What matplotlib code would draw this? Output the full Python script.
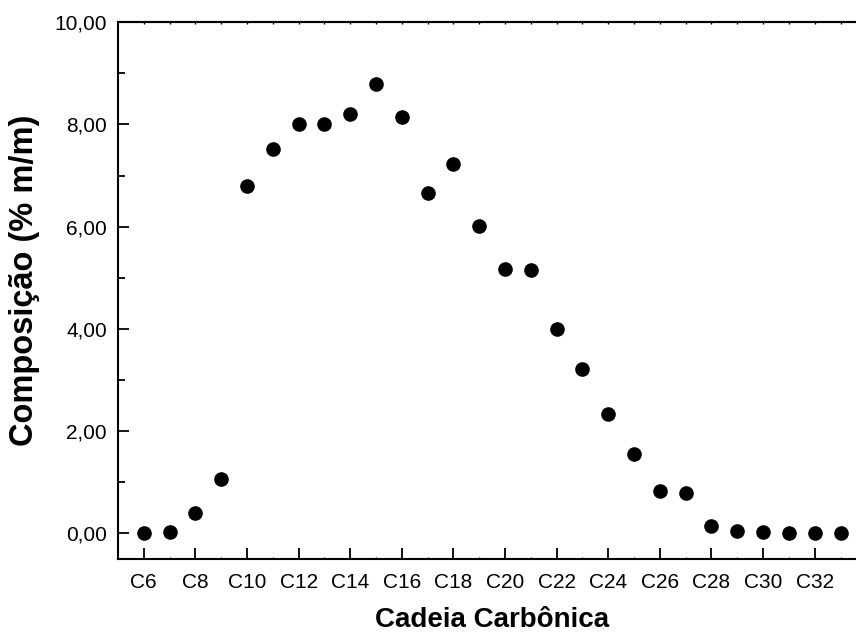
import matplotlib
matplotlib.use("Agg")
import matplotlib.pyplot as plt
from matplotlib.ticker import FixedLocator, FuncFormatter

plt.rcParams['font.family'] = ['Liberation Sans', 'DejaVu Sans']

# Numero de carbonos da cadeia e composicao (% m/m)
carbonos = list(range(6, 34))
composicao = [0.00, 0.02, 0.39, 1.06, 6.80, 7.52, 8.00, 8.00, 8.21, 8.79,
              8.14, 6.65, 7.22, 6.01, 5.17, 5.15, 4.00, 3.21, 2.33, 1.55,
              0.83, 0.79, 0.14, 0.05, 0.03, 0.00, 0.00, 0.00]

rotulos_x = ['C%d' % c for c in range(6, 34, 2)]

fig = plt.figure(figsize=(8.56, 6.34), dpi=100)
ax = fig.add_axes([118 / 856, 1 - 559.3 / 634, 1 - 118 / 856, (559.3 - 22.3) / 634])

ax.plot(carbonos, composicao, 'o', color='black', markersize=9.5)

ax.set_xlim(5, 33.6)
ax.set_ylim(-0.51, 10)

ax.xaxis.set_major_locator(FixedLocator(range(6, 34, 2)))
ax.xaxis.set_minor_locator(FixedLocator(range(7, 34, 2)))
ax.set_xticklabels(rotulos_x)
ax.yaxis.set_major_locator(FixedLocator([0, 2, 4, 6, 8, 10]))
ax.yaxis.set_minor_locator(FixedLocator([1, 3, 5, 7, 9]))
ax.yaxis.set_major_formatter(FuncFormatter(lambda v, p: ('%.2f' % v).replace('.', ',')))

ax.spines['right'].set_visible(False)
for s in ['left', 'bottom', 'top']:
    ax.spines[s].set_linewidth(1.5)

ax.tick_params(which='major', direction='in', length=8, width=1.3, labelsize=15)
ax.tick_params(axis='x', which='major', pad=10)
ax.tick_params(axis='y', which='major', pad=8)
ax.tick_params(axis='x', which='minor', direction='in', length=1.5, width=0.8)
ax.tick_params(axis='y', which='minor', direction='in', length=5, width=1.3)

topo = ax.secondary_xaxis('top')
topo.set_xticks(carbonos)
topo.tick_params(direction='in', length=1.5, width=1.0, labeltop=False)
topo.spines['top'].set_linewidth(1.5)

# rotulos dos eixos
fig.text(492 / 856, 1 - 627 / 634, 'Cadeia Carbônica', fontsize=20,
         fontweight='bold', ha='center', va='baseline')
fig.text(24.5 / 856, 1 - 280 / 634, 'Composição (% m/m)', fontsize=23.5,
         fontweight='bold', ha='center', va='center', rotation=90)

fig.savefig('out.png', dpi=100)
plt.close(fig)
